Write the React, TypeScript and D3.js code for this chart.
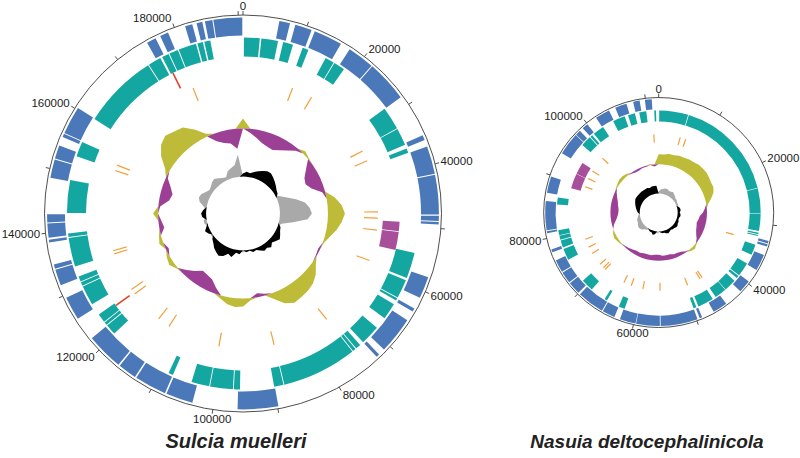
import React from "react";
import * as d3 from "d3";

// ---------- Sulcia muelleri ----------
const sulciaLength = 190733;
const sulciaTickValues = [0, 10000, 20000, 30000, 40000, 50000, 60000, 70000, 80000, 90000, 100000, 110000, 120000, 130000, 140000, 150000, 160000, 170000, 180000, 190000];
const sulciaLabelValues = [0, 20000, 40000, 60000, 80000, 100000, 120000, 140000, 160000, 180000];
// genes (kb) outer ring (blue)
const sulciaBlue: [number, number][] = [
  [5.67, 7.36], [8.21, 10.86], [11.39, 15.89], [17.48, 21.72], [21.88, 28.4], [35.23, 36.03],
  [37.09, 41.48], [41.64, 47.84], [48.05, 48.85], [49.01, 49.38], [57.75, 61.19], [63.05, 63.58],
  [65.17, 70.99], [72.05, 72.58], [89.85, 96.21], [103.31, 107.55], [107.81, 112.85], [113.11, 116.03],
  [116.29, 122.12], [125.83, 129.54], [131.66, 134.2], [134.36, 135.05], [138.54, 138.97], [139.28, 141.51],
  [141.67, 142.94], [148.61, 151.52], [151.68, 153.8], [155.23, 155.76], [155.92, 160.32], [175.2, 176.69],
  [177.48, 178.81], [181.62, 182.78], [183.47, 184.37], [184.79, 185.96], [186.12, 190.62],
];
// genes (kb) second ring (teal)
const sulciaTeal: [number, number][] = [
  [0.16, 2.91], [3.18, 6.09], [6.99, 8.74], [10.49, 11.55], [14.83, 16.42], [16.58, 18.54],
  [28.34, 32.32], [32.48, 35.5], [36.19, 36.98], [54.57, 59.07], [59.5, 62.78], [62.94, 63.36],
  [64.11, 67.02], [69.14, 72.58], [73.27, 74.17], [74.33, 74.86], [75.02, 88.16], [88.32, 89.96],
  [95.89, 96.95], [97.11, 101.09], [101.24, 104.37], [107.81, 108.61], [120.26, 122.12], [122.28, 122.81],
  [122.97, 124.5], [126.62, 130.07], [130.23, 130.86], [131.02, 131.92], [133.77, 138.81], [138.97, 139.6],
  [143.15, 148.87], [153.11, 155.76], [160.26, 173.46], [173.62, 175.89], [176.26, 177.48], [177.64, 179.23],
  [179.39, 182.52], [182.78, 183.74], [184.0, 185.06],
];
const sulciaRRNA: [number, number][] = [[49.27, 51.13], [51.29, 54.83]];
const sulciaOtherRNA: [number, number][] = [[176.42, 176.95], [123.81, 124.24]];
const sulciaTRNA = [11.44, 16.16, 33.06, 35.5, 47.31, 48.74, 51.45, 58.49, 75.07, 88.32, 100.82, 113.0, 115.87, 123.65, 124.92, 133.83, 134.57, 152.9, 154.17, 179.23];
// GC skew, 72 windows (px, + outward olive, - inward purple)
const sulciaSkew = [
  10, -4, -8, -12, -14, -15, -12, -8, -3, 3, 1, -8, -14, -16, -12, -3, 8, 14,
  17, 14, 10, 5, 1, -2, -1, 4, 10, 14, 16, 17, 18, 14, 6, -2, -4, 2,
  8, 9, 7, 3, -6, -12, -14, -15, -10, -5, 1, 5, 3, -3, 4, 2, -5, -3,
  5, -2, -10, -12, -8, -2, 5, 15, 22, 25, 22, 20, 12, 3, -8, -12, -14, -20,
];
// GC content, 72 windows (+ black, - grey)
const sulciaGC = [
  3, 5, 4, 6, 8, 10, 12, 12, 10, 8, 6, 4, 3, -4, -10, -18, -26, -30,
  -32, -28, -14, -3, 3, 4, 6, 8, 6, 4, 7, 5, 6, 4, 2, 3, 1, 2,
  -2, 4, 3, 8, 6, 10, 12, 10, 8, 5, 3, -2, 3, 5, 2, -3, -3, 4,
  5, 3, -3, -8, -10, -9, -6, -4, -5, -7, -8, -6, -4, -3, -8, -10, -12, -22,
];

// ---------- Nasuia deltocephalinicola ----------
const nasuiaLength = 112091;
const nasuiaTickValues = [0, 10000, 20000, 30000, 40000, 50000, 60000, 70000, 80000, 90000, 100000, 110000];
const nasuiaLabelValues = [0, 20000, 40000, 60000, 80000, 100000];
const nasuiaBlue: [number, number][] = [
  [32.54, 32.94], [33.1, 33.47], [34.87, 37.52], [39.7, 41.72], [44.68, 47.02], [49.04, 49.44],
  [49.82, 55.73], [55.86, 59.63], [59.72, 62.27], [63.21, 65.23], [65.39, 69.74], [70.06, 72.08],
  [72.24, 74.1], [74.26, 76.28], [77.68, 78.15], [80.8, 81.11], [81.26, 85.87], [87.18, 89.83],
  [93.88, 97.46], [97.55, 98.39], [99.01, 99.95], [101.66, 104.0], [105.08, 106.95], [108.04, 109.07],
  [109.91, 111.0],
];
const nasuiaTeal: [number, number][] = [
  [0.09, 5.23], [5.36, 23.66], [23.76, 28.12], [28.21, 31.29], [31.6, 31.85], [31.98, 32.19],
  [33.78, 35.65], [37.36, 39.85], [40.01, 40.48], [41.1, 43.28], [43.37, 45.46], [46.08, 48.88],
  [49.29, 49.82], [62.12, 63.21], [65.54, 66.01], [68.81, 70.99], [75.5, 77.53], [77.84, 79.09],
  [79.24, 79.96], [80.05, 80.95], [85.47, 86.71], [96.99, 98.86], [99.01, 99.42], [99.79, 101.81],
  [103.84, 106.02], [106.64, 107.89], [108.66, 109.91], [111.31, 111.62],
];
const nasuiaRRNA: [number, number][] = [[88.89, 91.85], [91.94, 94.34]];
const nasuiaOtherRNA: [number, number][] = [];
const nasuiaTRNA = [4.98, 6.32, 33.13, 45.55, 46.08, 49.29, 55.73, 59.69, 62.46, 64.27, 69.5, 70.06, 71.18, 74.23, 75.88, 77.84, 90.05, 92.07, 94.03, 97.77, 110.97];
const nasuiaSkew = [
  10, 10, 11, 11, 12, 12, 13, 13, 14, 14, 14, 13, 12, 12, 10, 6, 2, -2,
  -4, -7, -8, -9, -8, -7, -5, -2, 1, 3, 2, -1, -3, -4, -4, -5, -5, -5,
  -6, -6, -5, -5, -5, -4, -4, -3, -2, -1, 1, 2, 3, 2, 0, -2, -5, -7,
  -8, -8, -7, -6, -4, -2, 1, 2, 3, 3, 2, -1, -2, -2, -1, -1, 1, -2,
];
const nasuiaGC = [
  -2, -4, -5, -6, -6, -5, -5, -6, -5, -4, -3, -3, -2, -2, -2, 2, 3, 3,
  2, 3, 3, 2, 2, 3, 3, 4, 4, 3, 3, 2, 3, 4, 3, 2, 2, 1,
  -1, -2, 3, 4, 2, 2, 1, -2, -3, -5, -6, -6, -5, -4, -4, -3, -2, -1,
  2, 3, 4, 5, 6, 7, 8, 8, 8, 8, 8, 8, 8, 8, 7, 8, 8, 8,
];

const C = {
  blue: "#4a78b8",
  teal: "#14a7a1",
  magenta: "#a84f9c",
  red: "#e0442c",
  orange: "#f2a03c",
  purple: "#9b4094",
  olive: "#bdbb38",
  grey: "#a9a9a9",
  black: "#000000",
  axis: "#3a3a3a",
};

type MapProps = {
  cx: number; cy: number; R: number; length: number;
  tickValues: number[]; labelValues: number[];
  blue: [number, number][]; teal: [number, number][];
  rrna: [number, number][]; other: [number, number][]; trna: number[];
  skew: number[]; gc: number[];
  skewBase: number; gcBase: number;
};

function GenomeMap(p: MapProps) {
  const { cx, cy, R, length } = p;
  const angle = d3.scaleLinear().domain([0, length]).range([0, 2 * Math.PI]);
  const arc = d3.arc<any>();
  const ringBlue = [0.897 * R, 0.987 * R];
  const ringTeal = [0.791 * R, 0.887 * R];
  const ringRNA = [0.705 * R, 0.79 * R];
  const ringTRNA = [0.61 * R, 0.68 * R];
  const skewBase = p.skewBase * R;
  const gcBase = p.gcBase * R;

  const blocks = (data: [number, number][], r: number[], color: string, key: string) =>
    data.map((d, i) => (
      <path key={key + i}
        d={arc({ innerRadius: r[0], outerRadius: r[1], startAngle: angle(d[0] * 1000), endAngle: angle(d[1] * 1000) }) as string}
        fill={color} />
    ));

  const windowed = (vals: number[]) => {
    const n = vals.length;
    const pts = vals.map((v, i) => ({ a: angle((i * length) / n), v }));
    pts.push({ a: angle(length), v: vals[0] });
    return pts;
  };
  const skewPts = windowed(p.skew);
  const gcPts = windowed(p.gc);
  const rad = d3.areaRadial<{ a: number; v: number }>().angle((d) => d.a);
  const skewPos = rad.innerRadius(skewBase).outerRadius((d) => skewBase + Math.max(d.v, 0))(skewPts) as string;
  const skewNeg = rad.innerRadius((d) => skewBase + Math.min(d.v, 0)).outerRadius(skewBase)(skewPts) as string;
  const gcPos = rad.innerRadius(gcBase).outerRadius((d) => gcBase + Math.max(d.v, 0))(gcPts) as string;
  const gcNeg = rad.innerRadius(gcBase).outerRadius((d) => gcBase + Math.max(-d.v, 0))(gcPts) as string;

  const pol = (a: number, r: number) => [Math.sin(a) * r, -Math.cos(a) * r];

  return (
    <g transform={`translate(${cx},${cy})`}>
      <circle r={R} fill="none" stroke={C.axis} strokeWidth={0.9} />
      {p.tickValues.map((t) => {
        const a = angle(t);
        const [x1, y1] = pol(a, R);
        const [x2, y2] = pol(a, R + 4);
        return <line key={"t" + t} x1={x1} y1={y1} x2={x2} y2={y2} stroke={C.axis} strokeWidth={0.9} />;
      })}
      {p.labelValues.map((t) => {
        const a = angle(t);
        const label = String(t);
        const sn = Math.sin(a);
        const cs = Math.cos(a);
        const [x, y] = pol(a, R + 4);
        const anchor = sn > 0.3 ? "start" : sn < -0.3 ? "end" : "middle";
        const dx = anchor === "start" ? 1.5 : anchor === "end" ? -1.5 : 0;
        const dy = anchor === "middle" ? -cs * 5 : -cs * 5.5;
        return (
          <text key={"l" + t} x={x + dx} y={y + dy}
            textAnchor={anchor} dominantBaseline="central"
            fontFamily="'Liberation Sans', Arial, sans-serif" fontSize={11.5} fill="#222">{label}</text>
        );
      })}
      {blocks(p.blue, ringBlue, C.blue, "b")}
      {blocks(p.teal, ringTeal, C.teal, "c")}
      {blocks(p.rrna, ringRNA, C.magenta, "m")}
      {p.other.map((d, i) => {
        const a = angle(((d[0] + d[1]) / 2) * 1000);
        const [x1, y1] = pol(a, ringRNA[0]);
        const [x2, y2] = pol(a, ringRNA[1]);
        return <line key={"o" + i} x1={x1} y1={y1} x2={x2} y2={y2} stroke={C.red} strokeWidth={1.6} />;
      })}
      {p.trna.map((d, i) => {
        const a = angle(d * 1000);
        const [x1, y1] = pol(a, ringTRNA[0]);
        const [x2, y2] = pol(a, ringTRNA[1]);
        return <line key={"r" + i} x1={x1} y1={y1} x2={x2} y2={y2} stroke={C.orange} strokeWidth={1.2} />;
      })}
      <path d={skewPos} fill={C.olive} />
      <path d={skewNeg} fill={C.purple} />
      <path d={gcNeg} fill={C.grey} />
      <path d={gcPos} fill={C.black} />
    </g>
  );
}

export default function App() {
  return (
    <svg width={800} height={458} style={{ position: "absolute", left: 0, top: 0, background: "#fff" }}>
      <GenomeMap cx={243} cy={213.5} R={198.5} length={sulciaLength}
        tickValues={sulciaTickValues} labelValues={sulciaLabelValues}
        blue={sulciaBlue} teal={sulciaTeal} rrna={sulciaRRNA} other={sulciaOtherRNA} trna={sulciaTRNA}
        skew={sulciaSkew} gc={sulciaGC} skewBase={0.428} gcBase={0.186} />
      <GenomeMap cx={658.7} cy={212.5} R={115} length={nasuiaLength}
        tickValues={nasuiaTickValues} labelValues={nasuiaLabelValues}
        blue={nasuiaBlue} teal={nasuiaTeal} rrna={nasuiaRRNA} other={nasuiaOtherRNA} trna={nasuiaTRNA}
        skew={nasuiaSkew} gc={nasuiaGC} skewBase={0.42} gcBase={0.165} />
      <text x={236} y={448} textAnchor="middle" fontFamily="'Liberation Sans', Arial, sans-serif"
        fontWeight="bold" fontStyle="italic" fontSize={20} fill="#222">Sulcia muelleri</text>
      <text x={647} y={448} textAnchor="middle" fontFamily="'Liberation Sans', Arial, sans-serif"
        fontWeight="bold" fontStyle="italic" fontSize={19} fill="#222">Nasuia deltocephalinicola</text>
    </svg>
  );
}
